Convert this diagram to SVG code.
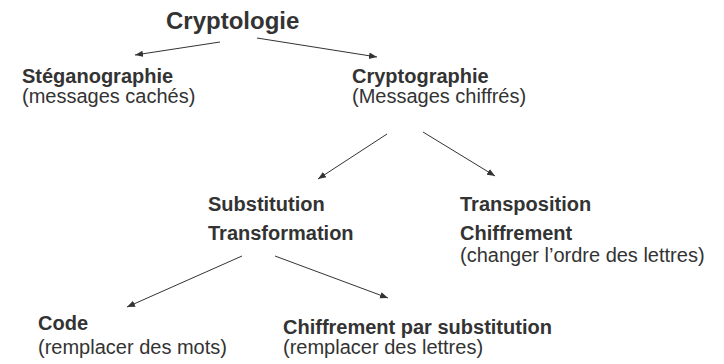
<svg xmlns="http://www.w3.org/2000/svg" width="724" height="364" viewBox="0 0 724 364">
<style>
text{font-family:"Liberation Sans",Arial,sans-serif;fill:#333333;font-size:20px}
.b{font-weight:bold}
.t{font-size:24px;font-weight:bold}
.c{stroke:#333333;stroke-width:1;fill:none;marker-end:url(#ah)}
</style>
<defs>
<marker id="ah" viewBox="0 0 10 10" refX="10" refY="5" markerWidth="8" markerHeight="8" markerUnits="userSpaceOnUse" orient="auto">
<path d="M0,1 L10,5 L0,9 z" fill="#333333"/>
</marker>
</defs>
<rect width="724" height="364" fill="#ffffff"/>
<g id="connectors">
<line class="c" x1="220" y1="42" x2="135" y2="55"/>
<line class="c" x1="257" y1="38" x2="377" y2="57"/>
<line class="c" x1="387" y1="134" x2="318" y2="179"/>
<line class="c" x1="423" y1="132" x2="495" y2="176"/>
<line class="c" x1="242" y1="256" x2="127" y2="307"/>
<line class="c" x1="275" y1="256" x2="388" y2="298"/>
</g>
<g id="cryptologie"><text class="t" x="166" y="29">Cryptologie</text></g>
<g id="steganographie"><text class="b" x="22" y="83">Stéganographie</text><text x="22" y="103">(messages cachés)</text></g>
<g id="cryptographie"><text class="b" x="352" y="83">Cryptographie</text><text x="352" y="103">(Messages chiffrés)</text></g>
<g id="substitution"><text class="b" x="208" y="211">Substitution</text><text class="b" x="208" y="240">Transformation</text></g>
<g id="transposition"><text class="b" x="460" y="211">Transposition</text><text class="b" x="460" y="240">Chiffrement</text><text x="460" y="262">(changer l’ordre des lettres)</text></g>
<g id="code"><text class="b" x="38" y="330">Code</text><text x="38" y="354">(remplacer des mots)</text></g>
<g id="chiffrement-substitution"><text class="b" x="283" y="334">Chiffrement par substitution</text><text x="283" y="354">(remplacer des lettres)</text></g>
</svg>
